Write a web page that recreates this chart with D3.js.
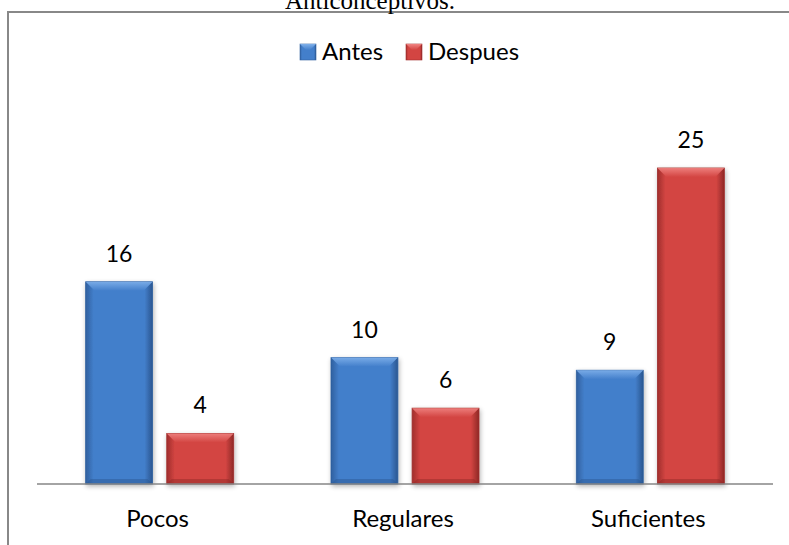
<!DOCTYPE html>
<html><head><meta charset="utf-8">
<script src="https://cdn.jsdelivr.net/npm/d3@7"></script>
<style>body{margin:0;background:#fff}svg{display:block}</style>
</head><body>
<svg id="c" width="789" height="545"></svg>
<script>
const categories = ["Pocos", "Regulares", "Suficientes"];
const seriesNames = ["Antes", "Despues"];
const antes = [16, 10, 9];
const despues = [4, 6, 25];
const title = "Anticonceptivos.";

const svg = d3.select("#c");
const x0 = 37, x1 = 773, yBase = 484, yTop = 168;
const sans = "Lato, 'Open Sans', sans-serif";

// frame
svg.append("rect").attr("x", 8).attr("y", 12).attr("width", 800).attr("height", 600)
  .attr("fill", "none").attr("stroke", "#888").attr("stroke-width", 2);

svg.append("text").attr("x", 370).attr("y", 9).attr("text-anchor", "middle")
  .attr("font-family", "'Liberation Serif', 'Times New Roman', serif").attr("font-size", 25)
  .attr("fill", "#000").text(title);

const x = d3.scaleBand().domain(categories).range([x0, x1]).paddingInner(0).paddingOuter(0);
const xs = d3.scaleBand().domain(seriesNames).range([0, x.bandwidth()]).paddingInner(0.175).paddingOuter(0.6);
const y = d3.scaleLinear().domain([0, 25]).range([yBase, yTop]);

const defs = svg.append("defs");
const cols = {
  Antes: {mid: "#437fcb", edge: "#30609f", light: "#7fb0ea", dark: "#2a5690"},
  Despues: {mid: "#d34542", edge: "#a02e2c", light: "#f08482", dark: "#8e2826"}
};
for (const k of seriesNames) {
  const g = defs.append("linearGradient").attr("id", "g" + k).attr("x1", 0).attr("x2", 1).attr("y1", 0).attr("y2", 0);
  g.append("stop").attr("offset", "0").attr("stop-color", cols[k].edge);
  g.append("stop").attr("offset", "0.12").attr("stop-color", cols[k].mid);
  g.append("stop").attr("offset", "0.88").attr("stop-color", cols[k].mid);
  g.append("stop").attr("offset", "1").attr("stop-color", cols[k].dark);
  const t = defs.append("linearGradient").attr("id", "t" + k).attr("x1", 0).attr("x2", 0).attr("y1", 0).attr("y2", 1);
  t.append("stop").attr("offset", "0").attr("stop-color", cols[k].light);
  t.append("stop").attr("offset", "1").attr("stop-color", cols[k].mid);
}
const sh = defs.append("filter").attr("id", "sh").attr("x", "-20%").attr("y", "-10%").attr("width", "140%").attr("height", "130%");
sh.append("feGaussianBlur").attr("in", "SourceAlpha").attr("stdDeviation", 2.5);
sh.append("feOffset").attr("dx", 1).attr("dy", 2).attr("result", "b");
sh.append("feComponentTransfer").append("feFuncA").attr("type", "linear").attr("slope", 0.3);
const m = sh.append("feMerge"); m.append("feMergeNode"); m.append("feMergeNode").attr("in", "SourceGraphic");

const data = [];
categories.forEach((c, i) => {
  data.push({c, s: "Antes", v: antes[i]});
  data.push({c, s: "Despues", v: despues[i]});
});

const bars = svg.append("g").selectAll("g").data(data).join("g")
  .attr("transform", d => `translate(${x(d.c) + xs(d.s)},0)`);
const bw = xs.bandwidth();
bars.append("rect").attr("x", 0).attr("y", d => y(d.v)).attr("width", bw)
  .attr("height", d => yBase - y(d.v)).attr("fill", d => `url(#g${d.s})`)
  .attr("stroke", d => cols[d.s].edge).attr("stroke-width", 0.8).attr("filter", "url(#sh)");
bars.append("path").attr("d", d => {
  const t = y(d.v), b = 9;
  return `M0,${t}L${bw},${t}L${bw - b},${t + b}L${b},${t + b}Z`;
}).attr("fill", d => `url(#t${d.s})`).attr("opacity", 0.9);
bars.append("path").attr("d", d => {
  const b = 5;
  return `M0,${yBase}L${bw},${yBase}L${bw - b},${yBase - b}L${b},${yBase - b}Z`;
}).attr("fill", d => cols[d.s].dark).attr("opacity", 0.45);

bars.append("text").attr("x", bw / 2).attr("y", d => y(d.v) - 20).attr("text-anchor", "middle")
  .attr("font-family", sans).attr("font-size", 23).attr("fill", "#000")
  .text(d => d.v);

// axis line
svg.append("line").attr("x1", x0).attr("x2", x1).attr("y1", yBase).attr("y2", yBase)
  .attr("stroke", "#868686").attr("stroke-width", 1.5);

svg.append("g").selectAll("text").data(categories).join("text")
  .attr("x", d => x(d) + x.bandwidth() / 2 - 2).attr("y", 527).attr("text-anchor", "middle")
  .attr("font-family", sans).attr("font-size", 24).attr("fill", "#000")
  .text(d => d);

// legend
const leg = [{s: "Antes", x: 300, tx: 322}, {s: "Despues", x: 406, tx: 428}];
const lg = svg.append("g").selectAll("g").data(leg).join("g");
lg.append("rect").attr("x", d => d.x).attr("y", 44).attr("width", 16).attr("height", 16)
  .attr("fill", d => `url(#g${d.s})`).attr("stroke", d => cols[d.s].edge).attr("stroke-width", 0.6);
lg.append("path").attr("d", d => `M${d.x},44L${d.x + 16},44L${d.x + 10},50L${d.x + 6},50Z`)
  .attr("fill", d => `url(#t${d.s})`);
lg.append("text").attr("x", d => d.tx).attr("y", 60).attr("font-family", sans)
  .attr("font-size", 24).attr("fill", "#000").text(d => d.s);
</script>
</body></html>
